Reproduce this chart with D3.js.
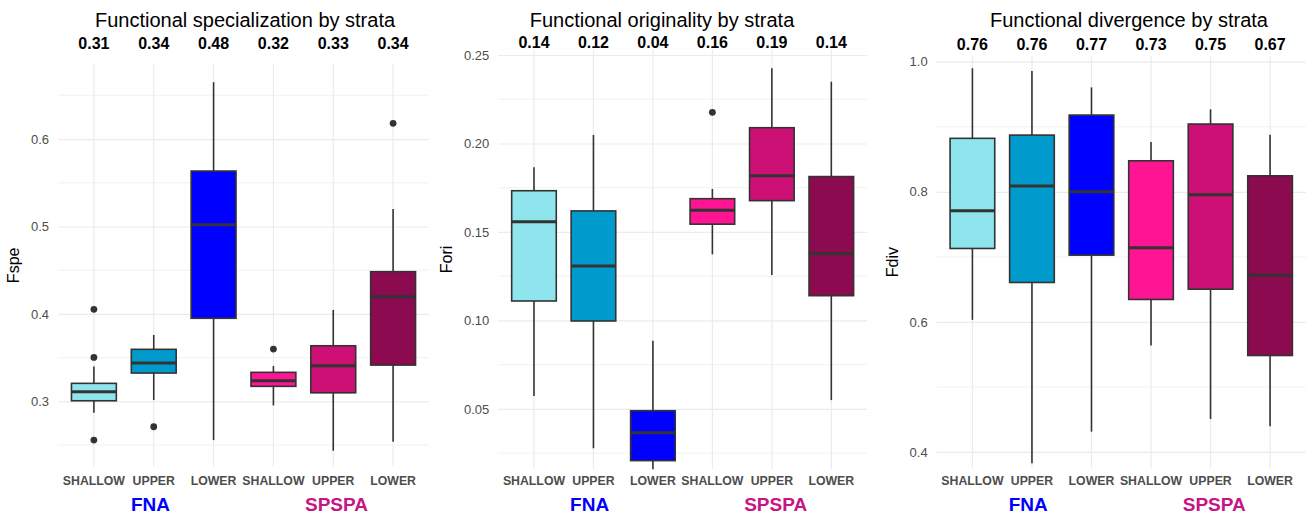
<!DOCTYPE html>
<html>
<head>
<meta charset="utf-8">
<title>Functional indices by strata</title>
<script src="https://d3js.org/d3.v7.min.js"></script>
<style>
  body { margin: 0; background: #fff; }
  text { font-family: "Liberation Sans", Arial, sans-serif; }
</style>
</head>
<body>
<svg id="chart" width="1307" height="515"></svg>
<script>
// categories
const strata = ["SHALLOW", "UPPER", "LOWER", "SHALLOW", "UPPER", "LOWER"];
const sites = ["FNA", "FNA", "FNA", "SPSPA", "SPSPA", "SPSPA"];
const boxColors = ["#8EE5EE", "#009ACD", "#0000FF", "#FF1493", "#CD1076", "#8B0A50"];
const siteColors = {FNA: "#0000FF", SPSPA: "#C71585"};

// Fspe
const fspeMean = ["0.31", "0.34", "0.48", "0.32", "0.33", "0.34"];
const fspeLow  = [0.287, 0.3015, 0.2557, 0.2954, 0.2435, 0.2538];
const fspeQ1   = [0.3007, 0.3324, 0.395, 0.3172, 0.3098, 0.3415];
const fspeMed  = [0.311, 0.3438, 0.5019, 0.3236, 0.3407, 0.4197];
const fspeQ3   = [0.3206, 0.3595, 0.5634, 0.3332, 0.3636, 0.4483];
const fspeHigh = [0.340, 0.3759, 0.665, 0.3404, 0.4045, 0.520];
const fspeOut  = [[0.4053, 0.3503, 0.2557], [0.271], [], [0.3598], [], [0.618]];
const fspeTicks = [0.3, 0.4, 0.5, 0.6];

// Fori
const foriMean = ["0.14", "0.12", "0.04", "0.16", "0.19", "0.14"];
const foriLow  = [0.0573, 0.0278, 0.0159, 0.1374, 0.1257, 0.055];
const foriQ1   = [0.111, 0.0997, 0.0208, 0.1544, 0.1677, 0.114];
const foriMed  = [0.1558, 0.1308, 0.0366, 0.1623, 0.1818, 0.1378];
const foriQ3   = [0.1733, 0.1619, 0.049, 0.1688, 0.2089, 0.1813];
const foriHigh = [0.1866, 0.2048, 0.0886, 0.1743, 0.2425, 0.2349];
const foriOut  = [[], [], [], [0.2176], [], []];
const foriTicks = [0.05, 0.10, 0.15, 0.20, 0.25];

// Fdiv
const fdivMean = ["0.76", "0.76", "0.77", "0.73", "0.75", "0.67"];
const fdivLow  = [0.6031, 0.3826, 0.4312, 0.5637, 0.4508, 0.4395];
const fdivQ1   = [0.7129, 0.6606, 0.7026, 0.6345, 0.6503, 0.5483];
const fdivMed  = [0.7708, 0.8089, 0.80, 0.7139, 0.7954, 0.6718];
const fdivQ3   = [0.8822, 0.8872, 0.918, 0.8477, 0.9042, 0.8246];
const fdivHigh = [0.99, 0.9857, 0.9606, 0.8765, 0.9268, 0.8877];
const fdivOut  = [[], [], [], [], [], []];
const fdivTicks = [0.4, 0.6, 0.8, 1.0];

function stats(low, q1, med, q3, high, out) {
  return low.map((d, i) => ({low: d, q1: q1[i], med: med[i], q3: q3[i], high: high[i], out: out[i]}));
}

const panels = [
  {title: "Functional specialization by strata", ylab: "Fspe", titleX: 245,
   left: 58, right: 429, top: 64, bottom: 466.7, domain: [0.2253, 0.6858],
   ticks: fspeTicks, fmt: d3.format(".1f"), means: fspeMean, meanY: 49,
   data: stats(fspeLow, fspeQ1, fspeMed, fspeQ3, fspeHigh, fspeOut)},
  {title: "Functional originality by strata", ylab: "Fori", titleX: 662,
   left: 498.3, right: 867, top: 49.5, bottom: 469.3, domain: [0.0159, 0.2531],
   ticks: foriTicks, fmt: d3.format(".2f"), means: foriMean, meanY: 47.5,
   data: stats(foriLow, foriQ1, foriMed, foriQ3, foriHigh, foriOut)},
  {title: "Functional divergence by strata", ylab: "Fdiv", titleX: 1129,
   left: 936.7, right: 1305.8, top: 56, bottom: 468.3, domain: [0.3749, 1.0088],
   ticks: fdivTicks, fmt: d3.format(".1f"), means: fdivMean, meanY: 50,
   data: stats(fdivLow, fdivQ1, fdivMed, fdivQ3, fdivHigh, fdivOut)}
];

const svg = d3.select("#chart");
const ink = "#333333";

panels.forEach(function(p) {
  const g = svg.append("g");
  const x = d3.scaleBand().domain(d3.range(strata.length))
      .range([p.left, p.right]).paddingInner(0).paddingOuter(0.1);
  const y = d3.scaleLinear().domain(p.domain).range([p.bottom, p.top]);
  const cx = i => x(i) + x.bandwidth() / 2;
  const bw = x.bandwidth() * 0.75;

  // minor grid at tick midpoints
  const step = p.ticks[1] - p.ticks[0];
  const minor = [];
  for (let t = p.ticks[0] - step / 2; t <= p.domain[1]; t += step)
    if (t >= p.domain[0]) minor.push(t);
  g.selectAll(".minor").data(minor).enter().append("line")
    .attr("x1", p.left).attr("x2", p.right)
    .attr("y1", d => y(d)).attr("y2", d => y(d))
    .attr("stroke", "#ebebeb").attr("stroke-width", 0.7);

  const yAxis = g.append("g").attr("transform", "translate(" + p.left + ",0)")
    .call(d3.axisLeft(y).tickValues(p.ticks).tickFormat(p.fmt)
      .tickSize(-(p.right - p.left)).tickPadding(9));
  yAxis.select(".domain").remove();
  yAxis.selectAll(".tick line").attr("stroke", "#ebebeb").attr("stroke-width", 1.2);
  yAxis.selectAll(".tick text").attr("fill", "#4d4d4d")
    .style("font-size", "13px").style("font-family", "Liberation Sans, Arial, sans-serif");

  // vertical grid
  g.selectAll(".vgrid").data(strata).enter().append("line")
    .attr("x1", (d, i) => cx(i)).attr("x2", (d, i) => cx(i))
    .attr("y1", p.top).attr("y2", p.bottom)
    .attr("stroke", "#ebebeb").attr("stroke-width", 1.2);

  // boxes
  const box = g.selectAll(".box").data(p.data).enter().append("g");
  box.append("line")
    .attr("x1", (d, i) => cx(i)).attr("x2", (d, i) => cx(i))
    .attr("y1", d => y(d.q3)).attr("y2", d => y(d.high))
    .attr("stroke", ink).attr("stroke-width", 1.6);
  box.append("line")
    .attr("x1", (d, i) => cx(i)).attr("x2", (d, i) => cx(i))
    .attr("y1", d => y(d.q1)).attr("y2", d => y(d.low))
    .attr("stroke", ink).attr("stroke-width", 1.6);
  box.append("rect")
    .attr("x", (d, i) => cx(i) - bw / 2).attr("width", bw)
    .attr("y", d => y(d.q3)).attr("height", d => y(d.q1) - y(d.q3))
    .attr("fill", (d, i) => boxColors[i])
    .attr("stroke", ink).attr("stroke-width", 1.6);
  box.append("line")
    .attr("x1", (d, i) => cx(i) - bw / 2).attr("x2", (d, i) => cx(i) + bw / 2)
    .attr("y1", d => y(d.med)).attr("y2", d => y(d.med))
    .attr("stroke", ink).attr("stroke-width", 3);
  box.each(function(d, i) {
    d3.select(this).selectAll("circle").data(d.out).enter().append("circle")
      .attr("cx", cx(i)).attr("cy", v => y(v)).attr("r", 3.4).attr("fill", ink);
  });

  // x labels
  g.selectAll(".xlab").data(strata).enter().append("text")
    .attr("x", (d, i) => cx(i)).attr("y", 485)
    .attr("text-anchor", "middle").attr("font-size", 12.3).attr("font-weight", "bold")
    .attr("fill", "#4d4d4d").text(d => d);

  // site labels
  const mid = (p.left + p.right) / 2;
  [["FNA", -93], ["SPSPA", 93]].forEach(function(s) {
    g.append("text").attr("x", mid + s[1]).attr("y", 511)
      .attr("text-anchor", "middle").attr("font-size", 19).attr("font-weight", "bold")
      .attr("fill", siteColors[s[0]]).text(s[0]);
  });

  // mean labels
  g.selectAll(".mean").data(p.means).enter().append("text")
    .attr("x", (d, i) => cx(i)).attr("y", p.meanY)
    .attr("text-anchor", "middle").attr("font-size", 16).attr("font-weight", "bold")
    .attr("fill", "#000").text(d => d);

  // title
  g.append("text").attr("x", p.titleX).attr("y", 27)
    .attr("text-anchor", "middle").attr("font-size", 20).attr("fill", "#000")
    .text(p.title);

  // y title next to the tick labels
  const lx = d3.min(yAxis.selectAll(".tick text").nodes(), n => n.getBBox().x) + p.left;
  const ymid = (p.top + p.bottom) / 2;
  g.append("text")
    .attr("transform", "translate(" + (lx - 12) + "," + ymid + ") rotate(-90)")
    .attr("text-anchor", "middle").attr("font-size", 16).attr("fill", "#000")
    .text(p.ylab);
});
</script>
</body>
</html>
